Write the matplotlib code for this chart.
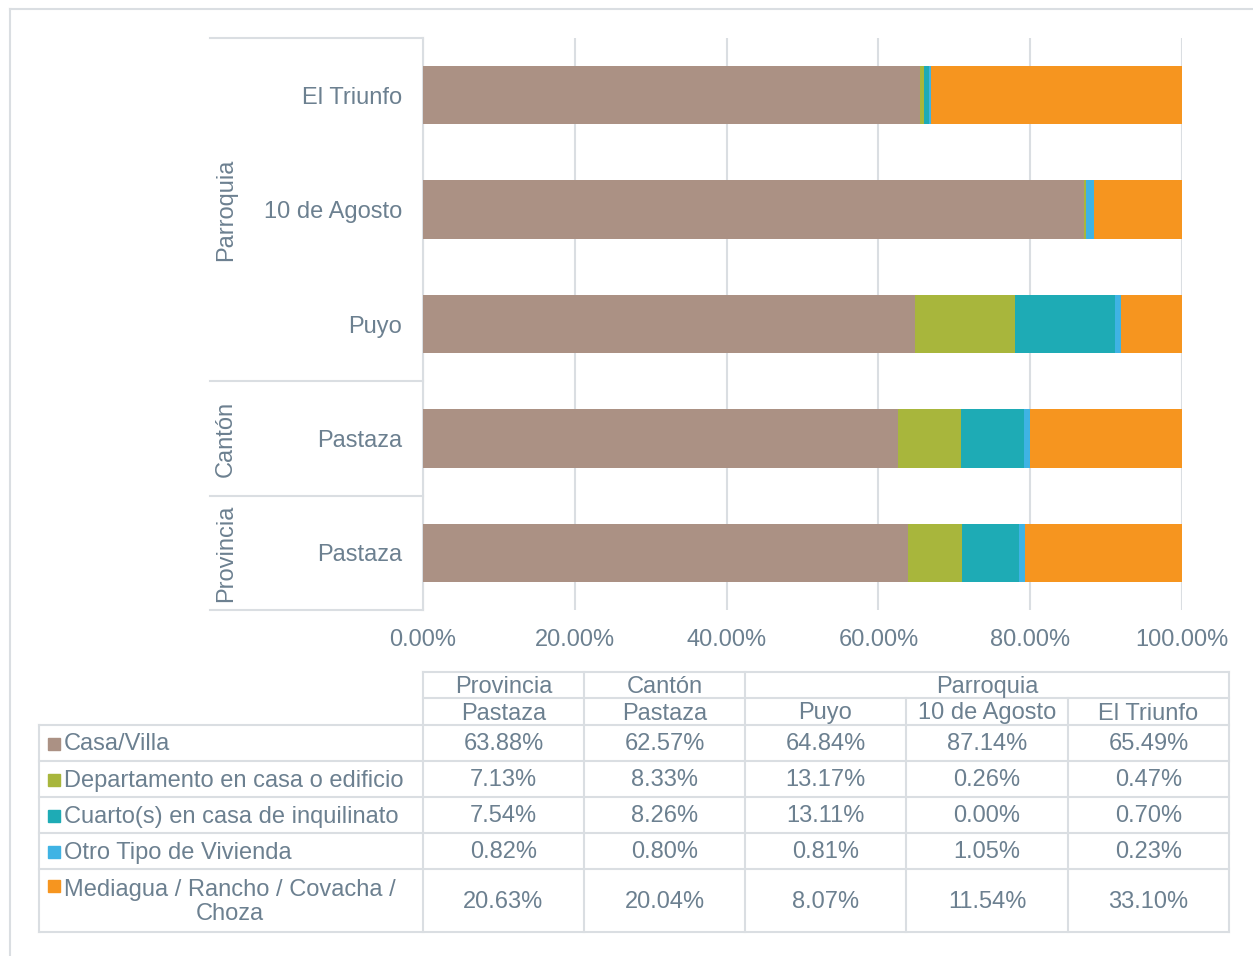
import matplotlib.pyplot as plt
from matplotlib.lines import Line2D
from matplotlib.patches import Rectangle

plt.rcParams['font.family'] = ['Liberation Sans', 'DejaVu Sans']

# bars are listed bottom to top
bar_labels = ['Pastaza', 'Pastaza', 'Puyo', '10 de Agosto', 'El Triunfo']
series_names = ['Casa/Villa', 'Departamento en casa o edificio',
                'Cuarto(s) en casa de inquilinato', 'Otro Tipo de Vivienda',
                'Mediagua / Rancho / Covacha /\nChoza']
casa_villa = [63.88, 62.57, 64.84, 87.14, 65.49]
departamento = [7.13, 8.33, 13.17, 0.26, 0.47]
cuarto = [7.54, 8.26, 13.11, 0.00, 0.70]
otro = [0.82, 0.80, 0.81, 1.05, 0.23]
mediagua = [20.63, 20.04, 8.07, 11.54, 33.10]
series = [casa_villa, departamento, cuarto, otro, mediagua]
colors = ['#ab9184', '#a8b63c', '#1eabb5', '#3fb3e4', '#f6951f']

group_names = ['Provincia', 'Cantón', 'Parroquia']
xticks = [0, 20, 40, 60, 80, 100]

W, H = 1253, 956
txt = '#6c8090'
grid_c = '#dadee2'
fs = 17

fig = plt.figure(figsize=(W / 100, H / 100), dpi=100)


def fx(x):
    return x / W


def fy(y):
    return 1 - y / H


def hline(y, x0, x1):
    fig.add_artist(Line2D([fx(x0), fx(x1)], [fy(y), fy(y)], color=grid_c, lw=1.5))


def vline(x, y0, y1):
    fig.add_artist(Line2D([fx(x), fx(x)], [fy(y0), fy(y1)], color=grid_c, lw=1.5))


# outer frame
hline(9, 10, W)
vline(10, 9, H)

# bar chart area
left, right, top, bottom = 423, 1182, 38, 610
ax = fig.add_axes([fx(left), fy(bottom), fx(right - left), (bottom - top) / H])
ypos = range(len(bar_labels))
start = [0.0] * len(bar_labels)
for vals, col, name in zip(series, colors, series_names):
    ax.barh(ypos, vals, left=start, height=0.51, color=col, label=name, zorder=3)
    start = [s + v for s, v in zip(start, vals)]

ax.set_xlim(0, 100)
ax.set_ylim(-0.5, len(bar_labels) - 0.5)
ax.set_xticks(xticks)
ax.set_xticklabels([f'{t:.2f}%' for t in xticks])
ax.set_yticks(list(ypos))
ax.set_yticklabels(bar_labels)
ax.tick_params(axis='both', length=0, labelsize=fs, labelcolor=txt)
ax.tick_params(axis='y', pad=15)
ax.tick_params(axis='x', pad=13.5)
ax.grid(axis='x', color=grid_c, lw=1.5, zorder=0)
for s in ['top', 'right', 'bottom']:
    ax.spines[s].set_visible(False)
ax.spines['left'].set_color(grid_c)
ax.spines['left'].set_linewidth(1.5)

# grouped category axis
for y in [38, 381, 496, 610]:
    hline(y, 210, left)
for name, (y0, y1) in zip(group_names, [(496, 610), (381, 496), (38, 381)]):
    fig.text(fx(226), fy((y0 + y1) / 2), name, rotation=90, ha='center',
             va='center', fontsize=fs, color=txt)

# data table below the chart
cols = [423, 584, 745, 906, 1068, 1229]
rows = [725, 761, 797, 833, 869, 932]
hline(672, 423, 1229)
hline(698, 423, 1229)
for y in rows:
    hline(y, 39, 1229)
vline(39, 725, 932)
for i, x in enumerate(cols):
    vline(x, 698 if i in (3, 4) else 672, 932)

header_top = [('Provincia', 423, 584), ('Cantón', 584, 745), ('Parroquia', 745, 1229)]
for name, x0, x1 in header_top:
    fig.text(fx((x0 + x1) / 2), fy(687), name, ha='center', va='center', fontsize=fs, color=txt)
header_bottom = ['Pastaza', 'Pastaza', 'Puyo', '10 de Agosto', 'El Triunfo']
for j, name in enumerate(header_bottom):
    fig.text(fx((cols[j] + cols[j + 1]) / 2), fy(713.5), name, ha='center', va='center',
             fontsize=fs, color=txt)

# table columns are ordered Provincia, Cantón, Puyo, 10 de Agosto, El Triunfo
for i, (vals, col, name) in enumerate(zip(series, colors, series_names)):
    y0, y1 = rows[i], rows[i + 1]
    yc = (y0 + y1) / 2 + 1.5
    multi = '\n' in name
    key_y = y0 + 17 if multi else yc - 1
    fig.add_artist(Rectangle((fx(48), fy(key_y + 6)), 12 / W, 12 / H, color=col))
    if multi:
        fig.text(fx(64), fy(yc), name, ha='left', va='center', multialignment='center',
                 fontsize=fs, color=txt, linespacing=1.15)
    else:
        fig.text(fx(64), fy(yc), name, ha='left', va='center', fontsize=fs, color=txt)
    for j, v in enumerate(vals):
        fig.text(fx((cols[j] + cols[j + 1]) / 2), fy(yc), f'{v:.2f}%', ha='center',
                 va='center', fontsize=fs, color=txt)

fig.savefig('out.png', dpi=100)
